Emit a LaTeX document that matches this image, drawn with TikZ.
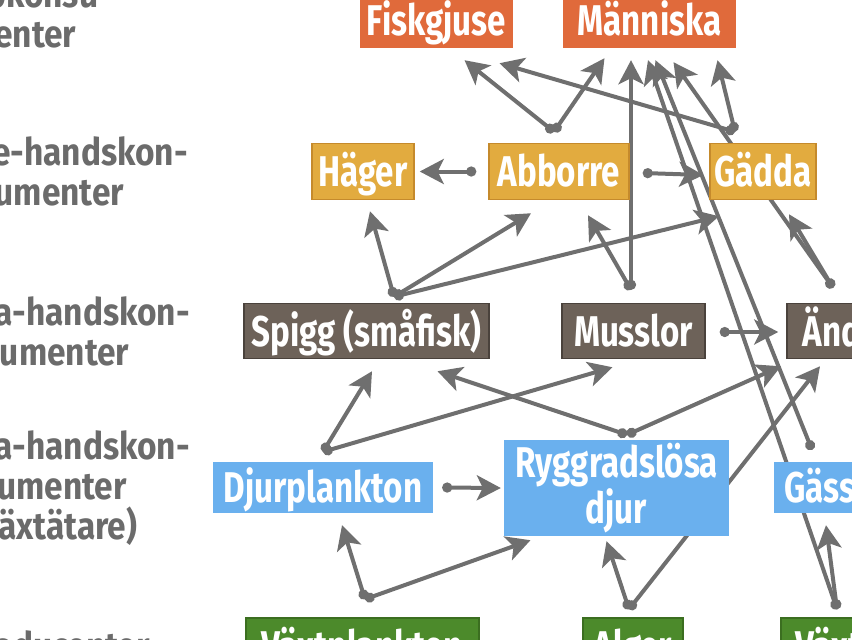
\documentclass[tikz,border=0pt]{standalone}
\usepackage{fontspec}
\newfontfamily\boxfont[FakeStretch=0.77]{Fira Sans}
\newfontfamily\levelfont[FakeStretch=0.88]{Fira Sans}
\usetikzlibrary{arrows.meta, calc, backgrounds}

\definecolor{topred}{HTML}{E06A3B}
\definecolor{goldfill}{HTML}{E2AB3F}
\definecolor{golddraw}{HTML}{C58A2C}
\definecolor{brownfill}{HTML}{6D6259}
\definecolor{browndraw}{HTML}{4A423C}
\definecolor{bluefill}{HTML}{6AB0EE}
\definecolor{greenfill}{HTML}{4C8A2B}
\definecolor{greendraw}{HTML}{3B6E20}
\definecolor{linkgray}{HTML}{6F6F6F}
\definecolor{namegray}{HTML}{6B6B6B}

\tikzset{
  species/.style={text=white, inner sep=0pt, align=center,
    font=\boxfont\bfseries\fontsize{43}{42}\selectfont},
  oneline/.style={text height=30pt, text depth=0pt},
  toplevel/.style={species, oneline, fill=topred, minimum height=56pt},
  thirdlevel/.style={species, oneline, fill=goldfill, draw=golddraw, line width=1.5pt, minimum height=56pt},
  secondlevel/.style={species, oneline, fill=brownfill, draw=browndraw, line width=1.5pt, minimum height=55pt},
  firstlevel/.style={species, fill=bluefill},
  producer/.style={species, oneline, fill=greenfill, draw=greendraw, line width=1.5pt, minimum height=56pt},
  levelname/.style={text=namegray, inner sep=0pt, align=center, anchor=east,
    font=\levelfont\bfseries\fontsize{38}{40}\selectfont},
  link/.style={draw=linkgray, line width=4pt, line cap=round,
    {Circle[length=10pt]}-{Stealth[length=24pt, width=25pt, inset=6pt]}}
}

\begin{document}
\begin{tikzpicture}[x=1pt, y=-1pt]
    \useasboundingbox (0,0) rectangle (852,640);
    \clip (0,0) rectangle (852,640);
    % Level names
    \node[levelname] (top_name) at (112,13) {Toppkonsu-\\menter};
    \node[levelname] (third_name) at (188,170) {Tredje-handskon-\\sumenter};
    \node[levelname] (second_name) at (190,331) {Andra-handskon-\\sumenter};
    \node[levelname] (first_name) at (190,487) {Första-handskon-\\sumenter\\(växtätare)};
    \node[levelname] (prod_name) at (150,645) {Producenter};

    % Species boxes
    \node[toplevel, minimum width=153pt] (fisk) at (436.5,20) {Fiskgjuse};
    \node[toplevel, minimum width=173pt] (manniska) at (649.5,20) {Människa};
    \node[thirdlevel, minimum width=102pt] (hager) at (363,171.5) {Häger};
    \node[thirdlevel, minimum width=140pt] (abborre) at (559,171.5) {Abborre};
    \node[thirdlevel, minimum width=106pt] (gadda) at (763,171.5) {Gädda};
    \node[secondlevel, minimum width=245pt] (spigg) at (366.5,331) {Spigg (småfisk)};
    \node[secondlevel, minimum width=143pt] (musslor) at (633.5,331) {Musslor};
    \node[secondlevel, minimum width=122pt] (ander) at (848,331) {Änder};
    \node[firstlevel, oneline, minimum width=220pt, minimum height=51pt] (djur) at (323,487.5) {Djurplankton};
    \node[firstlevel, minimum width=225pt, minimum height=96pt] (rygg) at (616.5,488) {Ryggradslösa\\djur};
    \node[firstlevel, oneline, minimum width=92pt, minimum height=51pt] (gass) at (820,487.5) {Gäss};
    \node[producer, minimum width=233pt] (vaxtpl) at (362.5,646) {Växtplankton};
    \node[producer, minimum width=100pt] (alger) at (633,646) {Alger};
    \node[producer, minimum width=126pt] (vaxter) at (844,646) {Växter};

    % Start points of the links
    \coordinate (abb_up) at ($(abborre.north)+(-5,-11)$);
    \coordinate (gad_up) at ($(gadda.north)+(-28,-11)$);
    \coordinate (spi_up) at ($(spigg.north)+(27.5,-6)$);
    \coordinate (mus_up) at ($(musslor.north)+(-2.5,-13)$);
    \coordinate (and_up) at ($(ander.north)+(-15,-15)$);
    \coordinate (dju_up) at ($(djur.north)+(0,-10)$);
    \coordinate (ryg_up) at ($(rygg.north)+(10.5,-5)$);
    \coordinate (gas_up) at ($(gass.north)+(-8,-12)$);
    \coordinate (vpl_up) at ($(vaxtpl.north)+(2.5,-18)$);
    \coordinate (alg_up) at ($(alger.north)+(-4,-8)$);
    \coordinate (vax_up) at ($(vaxter.north)+(-7,-8)$);

    % Feeding links, behind the boxes
    \begin{pgfonlayer}{background}
    \draw[link] (abb_up) -- ($(fisk.south)+(28,12)$);
    \draw[link] (abb_up) -- ($(manniska.south)+(-45,10)$);
    \draw[link] (gad_up) -- ($(fisk.south)+(63,15)$);
    \draw[link] (gad_up) -- ($(manniska.south)+(68,12)$);
    \draw[link] ($(abborre.west)+(-12,0)$) -- ($(hager.east)+(5,0)$);
    \draw[link] ($(abborre.east)+(13,1.5)$) -- ($(gadda.west)+(-6,3.5)$);
    \draw[link] (spi_up) -- ($(hager.south)+(7,11)$);
    \draw[link] (spi_up) -- ($(abborre.south)+(-28,13)$);
    \draw[link] (spi_up) -- ($(gadda.south)+(-44,16)$);
    \draw[link] (mus_up) -- ($(abborre.south)+(29,15)$);
    \draw[link] (mus_up) -- ($(manniska.south)+(-18.5,12)$);
    \draw[link] ($(musslor.east)+(14,1)$) -- ($(ander.west)+(-8,1)$);
    \draw[link] (and_up) -- ($(gadda.south)+(26,14)$);
    \draw[link] (and_up) -- ($(manniska.south)+(24,14)$);
    \draw[link] (dju_up) -- ($(spigg.south)+(5.5,12)$);
    \draw[link] (dju_up) -- ($(musslor.south)+(-21,8)$);
    \draw[link] ($(djur.east)+(9,0)$) -- ($(rygg.west)+(-3,0)$);
    \draw[link] (ryg_up) -- ($(spigg.south)+(71,12)$);
    \draw[link] (ryg_up) -- ($(ander.south)+(-67,7)$);
    \draw[link] (gas_up) -- ($(manniska.south)+(6,12)$);
    \draw[link] (vpl_up) -- ($(djur.south)+(19,12)$);
    \draw[link] (vpl_up) -- ($(rygg.south)+(-86,4)$);
    \draw[link] (alg_up) -- ($(rygg.south)+(-10,5)$);
    \draw[link] (alg_up) -- ($(ander.south)+(-28,7)$);
    \draw[link] (vax_up) -- ($(gass.south)+(6,12)$);
    \draw[link] (vax_up) -- ($(manniska.south)+(-1.5,12)$);
    \end{pgfonlayer}
\end{tikzpicture}
\end{document}
